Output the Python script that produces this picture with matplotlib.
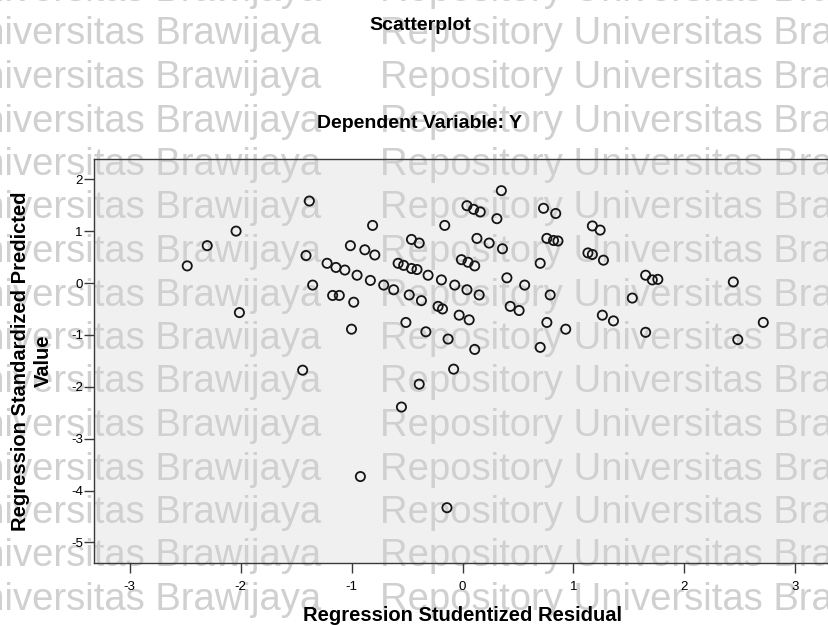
import matplotlib
matplotlib.use("Agg")
import matplotlib.pyplot as plt
from matplotlib.patches import Rectangle

plt.rcParams['font.family'] = ['Liberation Sans', 'DejaVu Sans']
plt.rcParams['axes.unicode_minus'] = False
plt.rcParams['figure.dpi'] = 100
plt.rcParams['savefig.dpi'] = 100

# Regression Studentized Residual (x) vs Regression Standardized Predicted Value (y)
resid = [-1.38, -2.04, -2.30, -2.48, -2.01, -0.81, -0.16, -1.41, -1.01, -0.88,
         -0.79, -1.22, -1.14, -1.06, -0.95, -0.83, -1.35, -1.17, -1.11, -0.98,
         -1.00, -1.44, -0.46, -0.39, -0.58, -0.53, -0.46, -0.41, -0.31, -0.19,
         -0.71, -0.62, -0.48, -0.37, -0.22, -0.18, -0.51, -0.33, -0.39, -0.13,
         -0.08, 0.35, 0.04, 0.10, 0.16, 0.31, 0.73, 0.84, 1.17, 1.24,
         0.13, 0.24, 0.36, 0.76, 0.82, 0.86, 1.13, 1.17, 1.27, 0.70,
         -0.01, 0.05, 0.11, -0.07, 0.04, 0.15, 0.40, 0.56, 0.79, 1.65,
         1.71, 1.76, 2.44, 1.53, -0.03, 0.06, 0.43, 0.51, 0.76, 0.93,
         1.26, 1.36, 1.65, 2.48, 2.71, 0.11, 0.70, -0.55, -0.92, -0.14]
pred = [1.58, 1.00, 0.72, 0.33, -0.57, 1.11, 1.11, 0.53, 0.72, 0.64,
        0.54, 0.38, 0.30, 0.25, 0.15, 0.05, -0.04, -0.24, -0.24, -0.37,
        -0.89, -1.68, 0.84, 0.77, 0.38, 0.34, 0.28, 0.26, 0.15, 0.06,
        -0.04, -0.13, -0.23, -0.34, -0.45, -0.50, -0.76, -0.94, -1.95, -1.08,
        -1.66, 1.78, 1.49, 1.42, 1.37, 1.24, 1.44, 1.34, 1.10, 1.02,
        0.86, 0.77, 0.66, 0.86, 0.82, 0.81, 0.58, 0.55, 0.44, 0.38,
        0.45, 0.40, 0.33, -0.04, -0.13, -0.23, 0.10, -0.04, -0.23, 0.15,
        0.06, 0.07, 0.02, -0.29, -0.62, -0.71, -0.45, -0.53, -0.76, -0.89,
        -0.62, -0.73, -0.95, -1.09, -0.76, -1.28, -1.24, -2.39, -3.73, -4.33]

x_ticks = [-3, -2, -1, 0, 1, 2, 3]
y_ticks = [2, 1, 0, -1, -2, -3, -4, -5]

title = "Scatterplot"
subtitle = "Dependent Variable: Y"
x_label = "Regression Studentized Residual"
y_label = "Regression Standardized Predicted\nValue"
watermark = "Repository Universitas Brawijaya"

W, H = 829, 625
fig = plt.figure(figsize=(W / 100, H / 100))
fig.patch.set_facecolor('white')

# plot area in pixels
left, right, top, bottom = 94, 831, 159, 562.7
pos = [left / W, (H - bottom) / H, (right - left) / W, (bottom - top) / H]

# gray plot background under the watermark
fig.add_artist(Rectangle((pos[0], pos[1]), pos[2], pos[3], transform=fig.transFigure,
                         facecolor='#f0f0f0', edgecolor='none', zorder=-2))

# repeated watermark rows
for k in range(-4, 11):
    base = 175 + 43.5 * k
    for start in (380 - 618, 380, 380 + 618):
        fig.text(start / W, (H - base) / H, watermark, fontsize=27.5, color='#d0d0d0',
                 ha='left', va='baseline', zorder=-1)

ax = fig.add_axes(pos)
ax.patch.set_alpha(0)
ax.scatter(resid, pred, s=44, facecolors='none', edgecolors='#151515', linewidths=1.3, zorder=3)

ax.set_xlim(-3.32, 3.32)
ax.set_ylim(-5.39, 2.39)
ax.set_xticks(x_ticks)
ax.set_yticks(y_ticks)
ax.spines['right'].set_visible(False)
for s in ['left', 'bottom', 'top']:
    ax.spines[s].set_color('#3a3a3a')
    ax.spines[s].set_linewidth(1)
ax.tick_params(direction='out', length=7, width=1, color='#3a3a3a', labelsize=9.5)
ax.tick_params(axis='x', pad=6)
ax.tick_params(axis='y', pad=1)

fig.text(420 / W, (H - 30) / H, title, ha='center', va='baseline', fontsize=14, fontweight='bold')
fig.text(420 / W, (H - 128.3) / H, subtitle, ha='center', va='baseline', fontsize=14, fontweight='bold')
fig.text(463 / W, (H - 621) / H, x_label, ha='center', va='baseline', fontsize=14.5, fontweight='bold')
fig.text(32 / W, (H - 361) / H, y_label, ha='center', va='center', rotation=90,
         multialignment='center', linespacing=1.2, fontsize=14.5, fontweight='bold')

fig.savefig("out.png", dpi=100)
